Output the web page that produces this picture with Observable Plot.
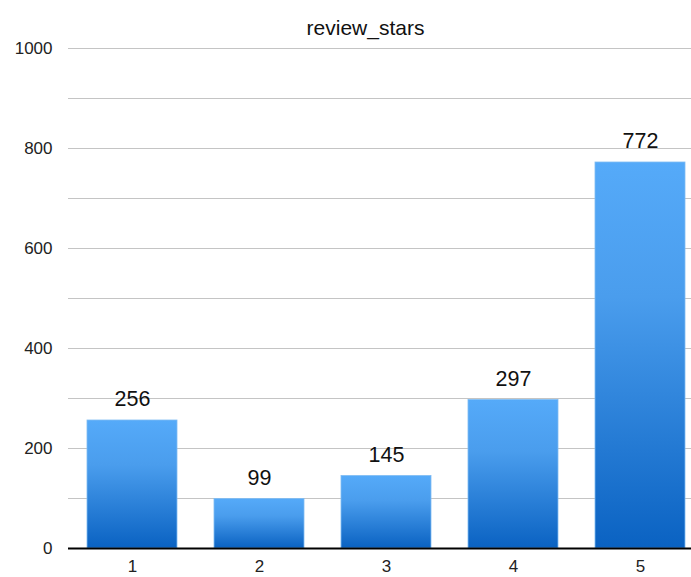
<!DOCTYPE html>
<html>
<head>
<meta charset="utf-8">
<script src="https://cdn.jsdelivr.net/npm/d3@7"></script>
<script src="https://cdn.jsdelivr.net/npm/@observablehq/plot@0.6"></script>
<style>
  html, body { margin: 0; padding: 0; background: #fff; overflow: hidden; }
  svg { display: block; }
</style>
</head>
<body>
<div id="chart"></div>
<script>
// Review star counts
const stars = ["1", "2", "3", "4", "5"];
const counts = [256, 99, 145, 297, 772];
const yTickLabels = [0, 200, 400, 600, 800, 1000];
const gridValues = [100, 200, 300, 400, 500, 600, 700, 800, 900, 1000];
const title = "review_stars";

const data = stars.map((s, i) => ({star: s, count: counts[i]}));

// vertical blue gradient used by each bar
const gradientDefs = () => {
  const defs = d3.create("svg:defs");
  const g = defs.append("linearGradient")
    .attr("id", "barGrad")
    .attr("x1", 0).attr("y1", 0).attr("x2", 0).attr("y2", 1);
  g.append("stop").attr("offset", "0%").attr("stop-color", "#55aaf9");
  g.append("stop").attr("offset", "35%").attr("stop-color", "#4a9ded");
  g.append("stop").attr("offset", "100%").attr("stop-color", "#0a62c2");
  return defs.node();
};

const chart = Plot.plot({
  width: 691,
  height: 577,
  marginTop: 48,
  marginBottom: 29,
  marginLeft: 68,
  marginRight: 0,
  style: {fontFamily: "Liberation Sans, Arial, sans-serif", fontSize: "17px", color: "#222"},
  x: {domain: stars, range: [68, 704], paddingInner: 0.29, paddingOuter: 0.145, label: null},
  y: {domain: [0, 1000], label: null},
  marks: [
    gradientDefs,
    Plot.ruleY(gridValues, {stroke: "#c4c4c4", strokeWidth: 1.2}),
    Plot.barY(data, {x: "star", y: "count", fill: "url(#barGrad)", stroke: "#7fbcf3", strokeWidth: 0.8}),
    Plot.ruleY([0], {stroke: "#000", strokeWidth: 2}),
    Plot.axisY(yTickLabels, {tickSize: 0, tickPadding: 16, fontSize: 17, tickFormat: d => String(d), label: null}),
    Plot.axisX({tickSize: 0, tickPadding: 11, fontSize: 17, label: null}),
    Plot.text(data, {x: "star", y: "count", text: d => String(d.count), dy: -21, fontSize: 21.5, fill: "#111"}),
    Plot.text([title], {frameAnchor: "top-left", textAnchor: "middle", dx: 297, dy: -28, fontSize: 21, fill: "#111"})
  ]
});

document.getElementById("chart").appendChild(chart);
</script>
</body>
</html>
